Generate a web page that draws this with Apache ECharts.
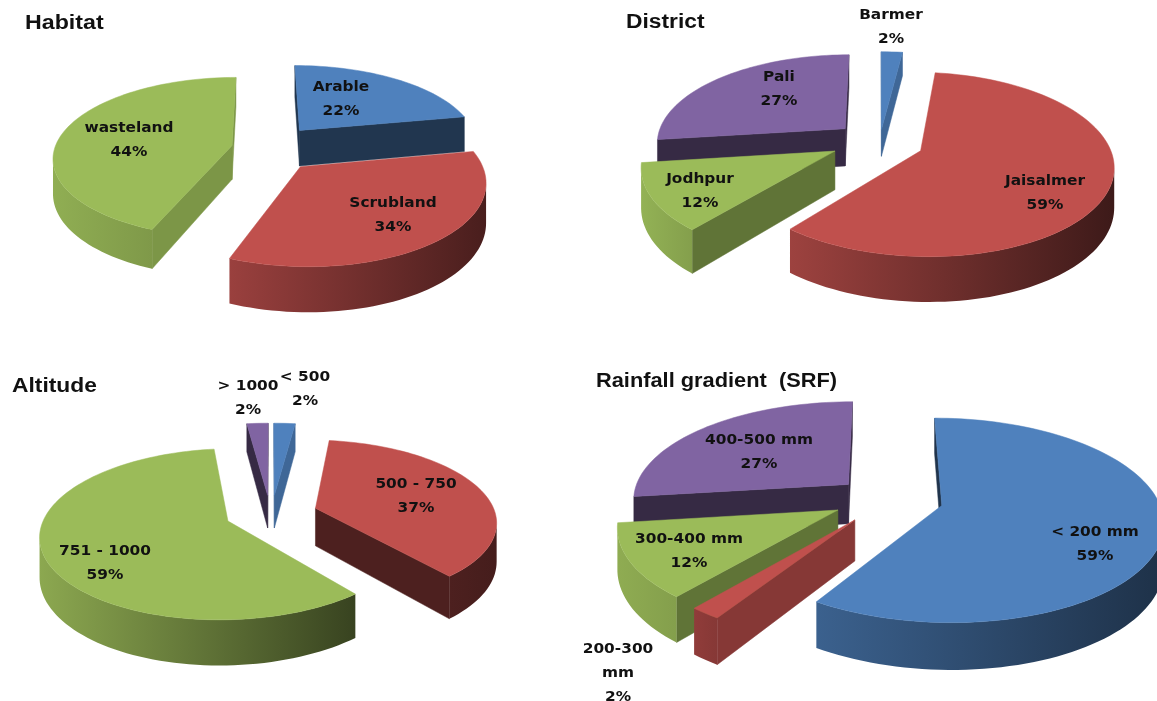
<!DOCTYPE html>
<html><head><meta charset="utf-8">
<style>html,body{margin:0;padding:0;background:#fff}#c{width:1157px;height:701px}</style>
<script src="https://cdn.jsdelivr.net/npm/echarts@6/dist/echarts.min.js"></script>
</head><body><div id="c"></div>
<script>
// ---- data ----
const habitatCategories = ['Arable','Scrubland','wasteland'];
const habitatValues = [22,34,44];
const districtCategories = ['Barmer','Jaisalmer','Jodhpur','Pali'];
const districtValues = [2,59,12,27];
const altitudeCategories = ['< 500','500 - 750','751 - 1000','> 1000'];
const altitudeValues = [2,37,59,2];
const rainfallCategories = ['< 200 mm','200-300\nmm','300-400 mm','400-500 mm'];
const rainfallValues = [59,2,12,27];

// ---- style / layout ----
const C = {blue:'#4f81bd',red:'#c0504d',green:'#9bbb59',purple:'#8064a2'};
const pies = [
 {title:'Habitat',tl:[25,13],tsx:1.16,cats:habitatCategories,vals:habitatValues,cx:262,cy:148,R:180,ky:80,p:.15,d:37,
  slices:[
   {c:C.blue,e:.33,wall:.42,o:[.5,.4],lab:[341,86],n:[1,2]},
   {c:C.red,e:.37,wall:.45,o:[.8,.38],lab:[393,202],k:.97,n:[-6,-5]},
   {c:C.green,e:.17,wall:.8,o:[.93,.82],lab:[129,127],dk:.92,k:.985}]},
 {title:'District',tl:[626,12],tsx:1.14,cats:districtCategories,vals:districtValues,cx:875,cy:140,R:193,ky:90,p:.15,d:38,
  slices:[
   {c:C.blue,e:.12,wall:.8,o:[.8,.8],lab:[891,14],n:[5,0],k:1.03,dk:.72},
   {c:C.red,e:.27,wall:.5,o:[.82,.32],lab:[1045,180],k:.97,n:[-3,1]},
   {c:C.green,e:.25,wall:.62,o:[.95,.85],lab:[700,178],k:.97,n:[3,0]},
   {c:C.purple,e:.21,wall:.42,o:[.45,.4],lab:[779,76],k:.98,n:[0,1]}]},
 {title:'Altitude',tl:[12,376],tsx:1.14,cats:altitudeCategories,vals:altitudeValues,cx:271,cy:516,R:180,ky:80,p:.15,d:38,
  slices:[
   {c:C.blue,e:.31,wall:.8,o:[.8,.8],lab:[305,376],k:1.15,n:[0,3],dk:.9},
   {c:C.red,e:.26,wall:.4,o:[.4,.36],lab:[416,483],n:[0,-2]},
   {c:C.green,e:.28,wall:.42,o:[.9,.36],lab:[105,550],k:1.01,n:[4,-4]},
   {c:C.purple,e:.31,wall:.42,o:[.45,.45],lab:[248,385],k:1.15,n:[0,3],dk:.9}]},
 {title:'Rainfall gradient  (SRF)',tl:[596,371],tsx:1.09,cats:rainfallCategories,vals:rainfallValues,cx:880,cy:500,R:225,ky:102,p:.15,d:40,
  slices:[
   {c:C.blue,e:.26,wall:.4,o:[.75,.38],lab:[1095,531],k:.96,n:[5,-2]},
   {c:C.red,e:.2,wall:.7,o:[.75,.7],lab:[618,648],k:.95,n:[2,3]},
   {c:C.green,e:.22,wall:.62,o:[.92,.85],lab:[689,538],k:.95,n:[2,-1]},
   {c:C.purple,e:.19,wall:.42,o:[.45,.4],lab:[759,439],k:.96,n:[0,-3]}]}
];

function shade(hex,f){
  const n=parseInt(hex.slice(1),16);
  const ch=s=>Math.round(((n>>s)&255)*f);
  return `rgb(${ch(16)},${ch(8)},${ch(0)})`;
}
const rad=d=>d*Math.PI/180;

function geometry(pie){
  const total=pie.vals.reduce((a,b)=>a+b,0);
  let acc=0;
  return pie.vals.map((v,i)=>{
    const a0=acc/total*360; acc+=v; const a1=acc/total*360;
    const m=(a0+a1)/2, e=pie.slices[i].e;
    return {a0,a1,u0:e*Math.sin(rad(m)),v0:e*Math.cos(rad(m))};
  });
}
function project(pie,st,u,v,down){
  const s=1/(1+pie.p*v), nn=st.n||[0,0], d=pie.d*(st.dk||1);
  return [pie.cx+pie.R*u*s+nn[0], pie.cy-pie.ky*v*s+(down?d*s:0)+nn[1]];
}
function renderSlice(pie,geo,params,api){
  const i=api.value(0), g=geo[i], st=pie.slices[i], k0=st.k||1;
  const pt=(th,down)=>project(pie,st,g.u0+k0*Math.sin(rad(th)),g.v0+k0*Math.cos(rad(th)),down);
  const A=project(pie,st,g.u0,g.v0,false), Ab=project(pie,st,g.u0,g.v0,true);
  const n=Math.max(4,Math.ceil((g.a1-g.a0)/2));
  const top=[],bot=[];
  for(let k=0;k<=n;k++){const t=g.a0+(g.a1-g.a0)*k/n;top.push(pt(t,false));bot.push(pt(t,true));}
  const ch=[];
  const wallCol=shade(st.c,st.wall);
  const quad=(P,Q,Pb,Qb)=>({type:'polygon',silent:true,shape:{points:[P,Q,Qb,Pb]},style:{fill:wallCol,stroke:wallCol,lineWidth:.5}});
  if(top[0][0]-A[0]<0) ch.push(quad(A,top[0],Ab,bot[0]));
  if(A[0]-top[n][0]<0) ch.push(quad(top[n],A,bot[n],Ab));
  // outer wall: the arc segments that face the viewer
  let run=[];
  const flush=()=>{
    if(run.length<2){run=[];return;}
    const pts=run.map(k=>top[k]).concat(run.slice().reverse().map(k=>bot[k]));
    ch.push({type:'polygon',silent:true,shape:{points:pts},style:{
      fill:new echarts.graphic.LinearGradient(0,0,1,0,[{offset:0,color:shade(st.c,st.o[0])},{offset:1,color:shade(st.c,st.o[1])}]),
      stroke:'none'}});
    run=[];
  };
  for(let k=0;k<n;k++){
    if(top[k+1][0]-top[k][0]<0){ if(!run.length) run.push(k); run.push(k+1);} else flush();
  }
  flush();
  const face=[A].concat(top);
  ch.push({type:'polygon',silent:true,shape:{points:face},style:{fill:st.c,stroke:st.c,lineWidth:.5}});
  return {type:'group',children:ch};
}
function renderLabel(pie,params,api){
  const i=api.value(0), st=pie.slices[i];
  return {type:'text',silent:true,x:st.lab[0],y:st.lab[1]-11,scaleX:1.06,style:{
    text:pie.cats[i]+'\n'+pie.vals[i]+'%',align:'center',verticalAlign:'top',
    fill:'#111',font:'bold 14.5px "DejaVu Sans"',lineHeight:24}};
}

const series=[],titleEls=[];
pies.forEach(pie=>{
  const geo=geometry(pie);
  // painter's order: far slices first
  const order=pie.vals.map((_,i)=>i).sort((a,b)=>{
    const key=j=>{const m=(geo[j].a0+geo[j].a1)/2;return geo[j].v0+0.5*Math.cos(rad(m));};
    return key(b)-key(a);
  });
  series.push({type:'custom',coordinateSystem:'none',silent:true,animation:false,z:2,clip:false,
    data:order.map(i=>[i,pie.vals[i]]),renderItem:(p,a)=>renderSlice(pie,geo,p,a)});
  series.push({type:'custom',coordinateSystem:'none',silent:true,animation:false,z:3,clip:false,
    data:pie.vals.map((v,i)=>[i,v]),renderItem:(p,a)=>renderLabel(pie,p,a)});
  titleEls.push({type:'text',silent:true,x:pie.tl[0],y:pie.tl[1],scaleX:pie.tsx,style:{
    text:pie.title,fill:'#111',font:'bold 20px "Liberation Sans"'}});
});
const chart=echarts.init(document.getElementById('c'),null,{renderer:'canvas',width:1157,height:701});
chart.setOption({backgroundColor:'#fff',animation:false,graphic:{elements:titleEls},series});
</script></body></html>
